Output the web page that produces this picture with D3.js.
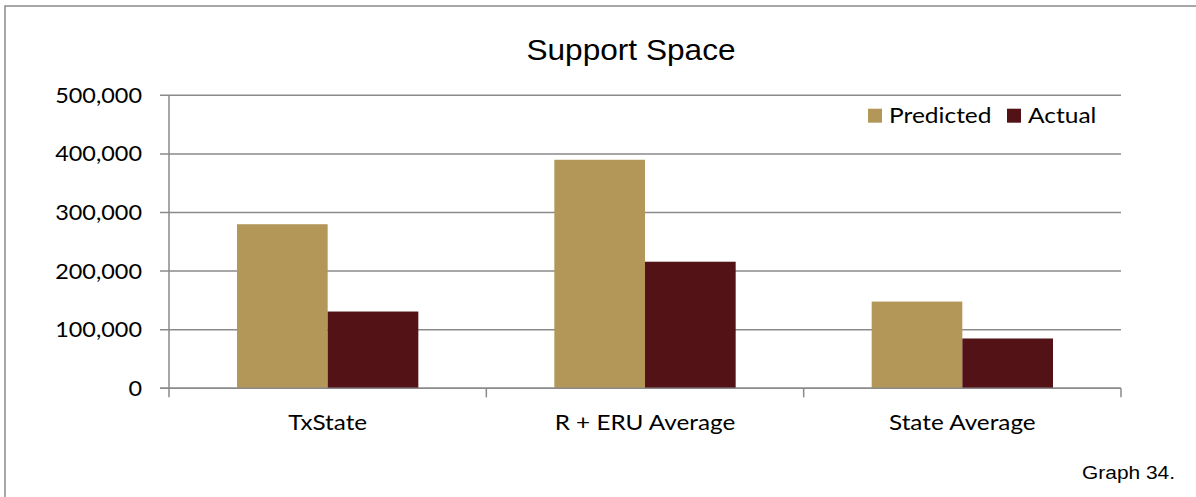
<!DOCTYPE html>
<html>
<head>
<meta charset="utf-8">
<script src="https://cdn.jsdelivr.net/npm/d3@7"></script>
<style>
  html, body { margin: 0; padding: 0; background: #fff; }
  svg { display: block; }
</style>
</head>
<body>
<svg id="chart"></svg>
<script>
// Chart data
const categories = ["TxState", "R + ERU Average", "State Average"];
const seriesNames = ["Predicted", "Actual"];
const predicted = [280000, 390000, 148000];
const actual = [131000, 216000, 85000];
const yTicks = [0, 100000, 200000, 300000, 400000, 500000];
const chartTitle = "Support Space";
const footnote = "Graph 34.";

const width = 1196;
const height = 497;
const colors = ["#B39759", "#521216"];
const gridColor = "#8a8a8a";
const labelFont = "Lato, 'Open Sans', sans-serif";
const titleFont = "'Liberation Sans', Arial, sans-serif";
const stretch = 1.09; // text in the source looks a bit wide

const svg = d3.select("#chart").attr("width", width).attr("height", height);

// outer frame (only left/top edges fall inside the picture)
svg.append("rect")
  .attr("x", 5).attr("y", 6)
  .attr("width", 1300).attr("height", 600)
  .attr("fill", "none")
  .attr("stroke", gridColor)
  .attr("stroke-width", 1.5);

const plot = { left: 169, right: 1121, top: 95.3, bottom: 388.3 };

const y = d3.scaleLinear().domain([0, 500000]).range([plot.bottom, plot.top]);
const x0 = d3.scaleBand().domain(categories).range([plot.left, plot.right]).padding(0);
const x1 = d3.scaleBand().domain(seriesNames).range([0, x0.bandwidth()]).paddingInner(0).paddingOuter(0.75);

const fmt = d3.format(",");

function addText(g, x, y, str, opts) {
  return g.append("text")
    .attr("transform", `translate(${x},${y}) scale(${opts.sx || stretch},1)`)
    .attr("text-anchor", opts.anchor || "start")
    .attr("font-family", opts.font || labelFont)
    .attr("font-size", opts.size)
    .attr("fill", "#000")
    .text(str);
}

// gridlines + y tick marks
svg.append("g")
  .selectAll("line")
  .data(yTicks)
  .join("line")
  .attr("x1", plot.left - 9)
  .attr("x2", plot.right)
  .attr("y1", d => y(d))
  .attr("y2", d => y(d))
  .attr("stroke", gridColor)
  .attr("stroke-width", 1.5);

// y axis line
svg.append("line")
  .attr("x1", plot.left).attr("x2", plot.left)
  .attr("y1", plot.top).attr("y2", plot.bottom)
  .attr("stroke", gridColor).attr("stroke-width", 1.5);

// x tick marks at category boundaries
const boundaries = categories.map(c => x0(c)).concat([plot.right]);
svg.append("g")
  .selectAll("line")
  .data(boundaries)
  .join("line")
  .attr("x1", d => d).attr("x2", d => d)
  .attr("y1", plot.bottom).attr("y2", plot.bottom + 9)
  .attr("stroke", gridColor).attr("stroke-width", 1.5);

// y labels
const yLab = svg.append("g");
yTicks.forEach(t => {
  addText(yLab, 142, y(t) + 7.5, fmt(t), { anchor: "end", size: 21.5 });
});

// bars
const rows = categories.map((c, i) => ({ cat: c, values: [predicted[i], actual[i]] }));
const groups = svg.append("g")
  .selectAll("g")
  .data(rows)
  .join("g")
  .attr("transform", d => `translate(${x0(d.cat)},0)`);

groups.selectAll("rect")
  .data(d => d.values.map((v, j) => ({ name: seriesNames[j], value: v, j: j })))
  .join("rect")
  .attr("x", d => x1(d.name))
  .attr("width", x1.bandwidth())
  .attr("y", d => y(d.value))
  .attr("height", d => y(0) - y(d.value))
  .attr("fill", d => colors[d.j]);

// x axis line drawn over bars
svg.append("line")
  .attr("x1", plot.left - 9).attr("x2", plot.right)
  .attr("y1", plot.bottom).attr("y2", plot.bottom)
  .attr("stroke", gridColor).attr("stroke-width", 1.5);

// category labels
const xLab = svg.append("g");
categories.forEach(c => {
  addText(xLab, x0(c) + x0.bandwidth() / 2, 430, c, { anchor: "middle", size: 21.5, sx: 1.13 });
});

// title
addText(svg, 631, 60, chartTitle, { anchor: "middle", size: 29, font: titleFont });

// legend
const legend = svg.append("g");
const legendX = [868, 1007];
seriesNames.forEach((s, i) => {
  legend.append("rect")
    .attr("x", legendX[i]).attr("y", 108.7)
    .attr("width", 14).attr("height", 14)
    .attr("fill", colors[i]);
  addText(legend, legendX[i] + 21, 123, s, { size: 21.5, sx: 1.14 });
});

// footnote
addText(svg, 1175, 478.5, footnote, { anchor: "end", size: 18.5, font: titleFont, sx: 1.13 });
</script>
</body>
</html>
